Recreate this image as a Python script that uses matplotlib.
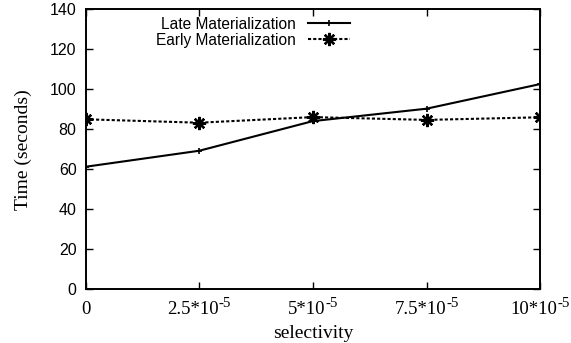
import matplotlib
matplotlib.use("Agg")
import matplotlib.pyplot as plt
from matplotlib.transforms import offset_copy

# Data
selectivity = [0, 2.5, 5, 7.5, 10]
tick_base = ["0", "2.5*10", "5*10", "7.5*10", "10*10"]
tick_exp = ["", "-5", "-5", "-5", "-5"]
late_mat = [61.2, 69.2, 84.0, 90.2, 102.5]
early_mat = [84.9, 83.2, 86.0, 84.6, 85.9]
y_ticks = [0, 20, 40, 60, 80, 100, 120, 140]

SERIF = "Liberation Serif"
SANS = "Liberation Sans"
DPI = 100

fig = plt.figure(figsize=(5.71, 3.43), dpi=DPI)
ax = fig.add_axes([0.150, 0.1566, 0.796, 0.8172])

ax.plot(selectivity, late_mat, color="black", lw=1.5, marker="+",
        markersize=4, markeredgewidth=1.2, label="Late Materialization")
ax.plot(selectivity, early_mat, color="black", lw=1.5, linestyle=(0, (1.5, 1)),
        marker=(8, 2, 0), markersize=9.5, markeredgewidth=1.7,
        label="Early Materialization")

ax.set_xlim(0, 10)
ax.set_ylim(0, 140)
ax.set_xticks(selectivity)
ax.set_xticklabels([])
ax.set_yticks(y_ticks)
ax.set_yticklabels([str(v) for v in y_ticks], family=SANS, fontsize=11.5)

ax.tick_params(direction="in", length=5, width=1, top=True, right=True)
ax.tick_params(axis="y", pad=6.5)
for s in ax.spines.values():
    s.set_linewidth(1.4)

ax.set_xlabel("selectivity", family=SERIF, fontsize=14, labelpad=22)
ax.set_ylabel("Time (seconds)", family=SERIF, fontsize=14, labelpad=13)

# x tick labels with raised exponents, centred on each tick as a whole
xtrans = ax.get_xaxis_transform()
base_texts, exp_texts = [], []
for x, b, e in zip(selectivity, tick_base, tick_exp):
    base_texts.append(ax.text(x, 0, b, family=SERIF, fontsize=13.5,
                              ha="left", va="baseline", transform=xtrans))
    exp_texts.append(ax.text(x, 0, e, family=SERIF, fontsize=10.8,
                             ha="left", va="baseline", transform=xtrans))

leg = ax.legend(loc="upper right", bbox_to_anchor=(0.5814, 0.972), frameon=False,
                markerfirst=False, handlelength=2.72, handletextpad=0.77,
                labelspacing=0.05, borderpad=0, borderaxespad=0,
                prop={"family": SANS, "size": 11.2})

fig.canvas.draw()
renderer = fig.canvas.get_renderer()
drop = 25.0   # baseline distance below the axis, pixels
rise = 7.0    # exponent baseline lift, pixels
for tb, te in zip(base_texts, exp_texts):
    wb = tb.get_window_extent(renderer).width
    we = te.get_window_extent(renderer).width if te.get_text() else 0.0
    x0 = -(wb + we) / 2.0
    tb.set_transform(offset_copy(xtrans, fig, x=x0, y=-drop, units="dots"))
    te.set_transform(offset_copy(xtrans, fig, x=x0 + wb, y=-drop + rise, units="dots"))

fig.savefig("out.png", dpi=DPI)
